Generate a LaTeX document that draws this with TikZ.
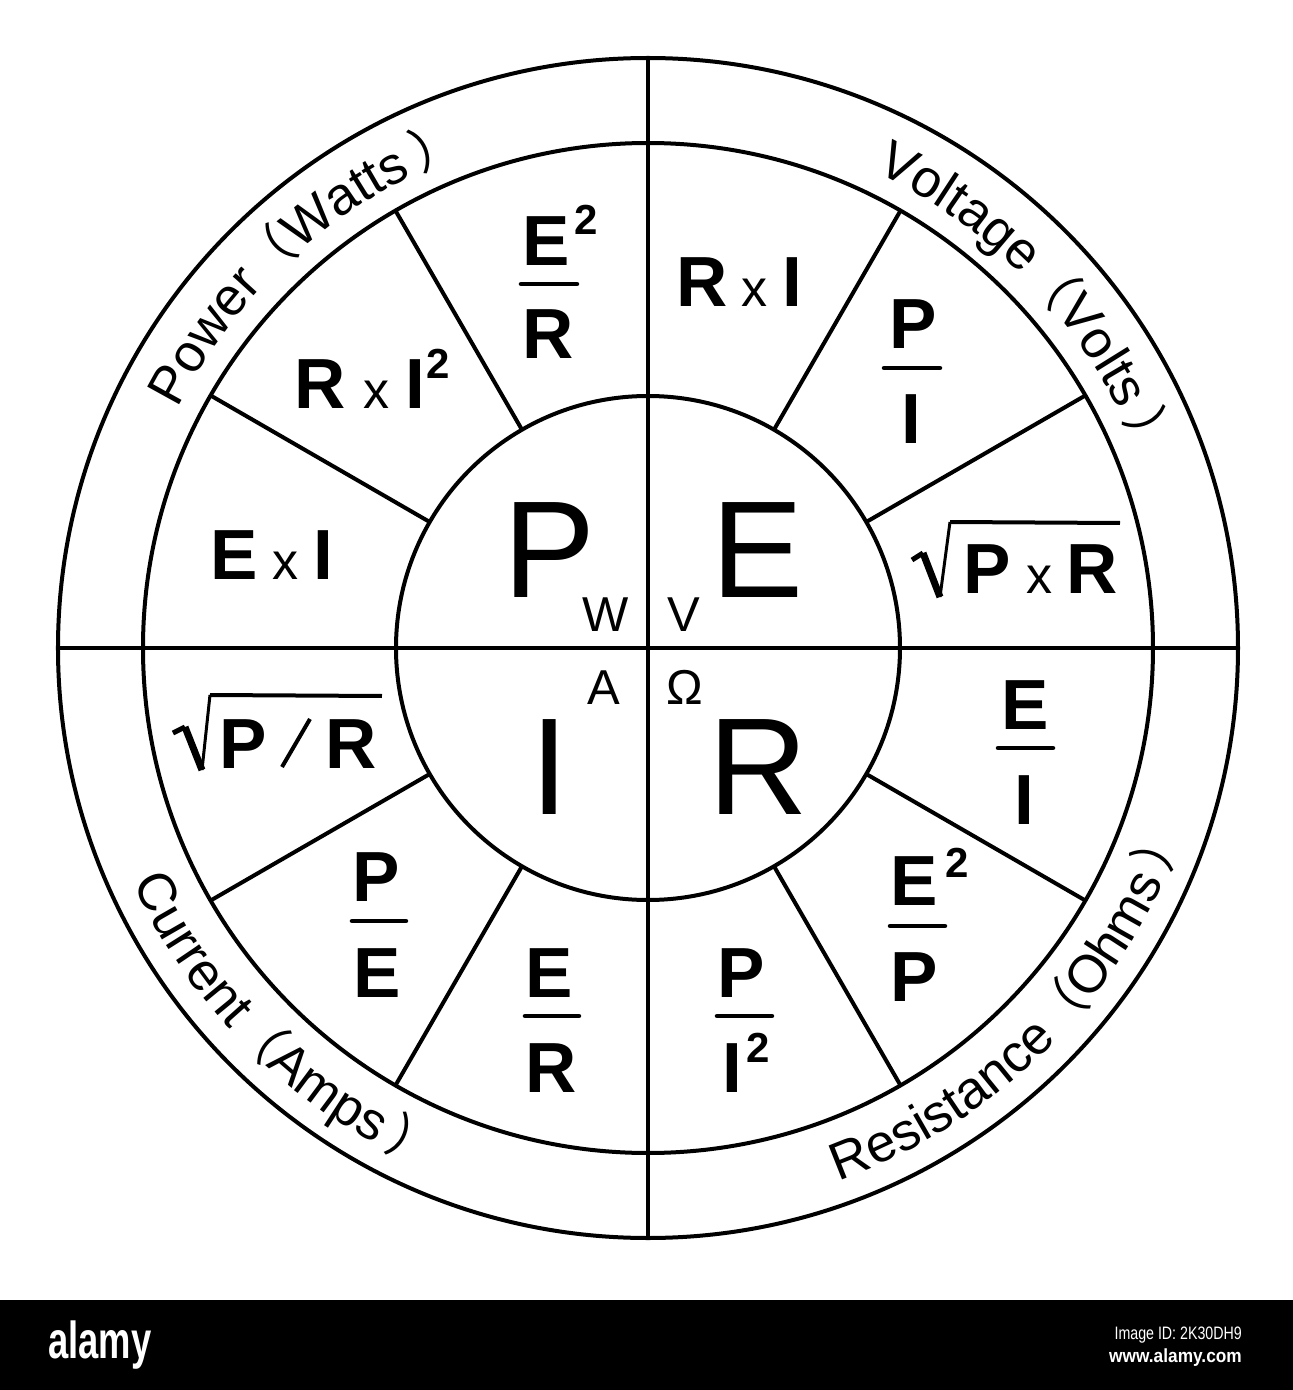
\documentclass[tikz,border=0pt]{standalone}
\usepackage{fontspec}
\setmainfont{Liberation Sans}
\newfontfamily\cjkf{Noto Sans CJK SC}
\usetikzlibrary{decorations.text}
\newcommand{\RT}{\fontsize{53}{53}\selectfont}
\newcommand{\RS}{\fontsize{34}{34}\selectfont}
\newcommand{\CJ}{\cjkf\fontsize{50}{50}\selectfont}
\tikzset{
  ringline/.style={line width=4pt},
  op/.style={font=\fontsize{71}{71}\selectfont\bfseries, inner sep=0pt, anchor=base},
  opx/.style={font=\fontsize{52}{52}\selectfont, inner sep=0pt, anchor=base},
  sq/.style={font=\fontsize{42}{42}\selectfont\bfseries, inner sep=0pt, anchor=base west},
  big/.style={font=\fontsize{138}{138}\selectfont, inner sep=0pt, anchor=base},
  unitlbl/.style={font=\fontsize{49}{49}\selectfont, inner sep=0pt, anchor=base},
  fbar/.style={line width=4.5pt, line cap=round},
  radtick/.style={line width=5pt},
  raddown/.style={line width=7pt},
  radup/.style={line width=3pt},
  radbar/.style={line width=4pt},
}
\begin{document}
\begin{tikzpicture}[x=1pt,y=1pt]
\useasboundingbox (-648,-742) rectangle (645,648);
\fill[white] (-648,-742) rectangle (645,648);
% circles and dividing lines
\coordinate (c) at (0,0);
\draw[ringline] (c) circle[radius=590pt];
\draw[ringline] (c) circle[radius=505pt];
\draw[ringline] (c) circle[radius=252pt];
\draw[ringline] (0,590) -- (0,-590);
\draw[ringline] (-590,0) -- (590,0);
\foreach \a in {30,60,120,150,210,240,300,330}
  \draw[ringline] (\a:252pt) -- (\a:505pt);
% ring texts
\path[decorate, decoration={text along path, text align=left,
  text={|\RT|Power|\CJ|（|\RT|Watts|\RS| |\CJ|）}}]
  (153:528pt) arc[start angle=153, end angle=60, radius=528pt];
\path[decorate, decoration={text along path, text align=left,
  text={|\RT|Voltage|\CJ|（|\RT|Volts|\RS| |\CJ|）}}]
  (64.5:528pt) arc[start angle=64.5, end angle=-30, radius=528pt];
\path[decorate, decoration={text along path, text align=left,
  text={|\RT|Current|\CJ|（|\RT|Amps|\RS| |\CJ|）}}]
  (204.5:566pt) arc[start angle=204.5, end angle=300, radius=566pt];
\path[decorate, decoration={text along path, text align=left,
  text={|\RT|Resistance|\CJ|（|\RT|Ohms|\RS| |\CJ|）}}]
  (289.7:566pt) arc[start angle=289.7, end angle=400, radius=566pt];
% ---- Power quadrant
\node[op] (pE1) at (-102,382) {E};
\node[sq] (pE1s) at (-74,413) {2};
\draw[fbar] (-127,364) -- (-71,364);
\node[op] (pR1) at (-100,289) {R};
\node[op] (pR2) at (-328,239) {R};
\node[opx] (px2) at (-271,239) {x};
\node[op] (pI2) at (-233,239) {I};
\node[sq] (pI2s) at (-222,269) {2};
\node[op] (pE3) at (-414,69) {E};
\node[opx] (px3) at (-362,69) {x};
\node[op] (pI3) at (-325,69) {I};
\node[big] (bigP) at (-98,51) {P};
\node[unitlbl] (uW) at (-42,17) {W};
% ---- Voltage quadrant
\node[op] (eR1) at (54,341) {R};
\node[opx] (ex1) at (107,341) {x};
\node[op] (eI1) at (144,341) {I};
\node[op] (eP2) at (265,299) {P};
\draw[fbar] (236,280) -- (292,280);
\node[op] (eI2) at (263,204) {I};
\draw[radtick] (264,88) -- (275,95);
\draw[raddown] (275,95) -- (292,51);
\draw[radup] (292,51) -- (302,126);
\draw[radbar] (302,126) -- (472,125);
\node[op] (eP3) at (339,55) {P};
\node[opx] (ex3) at (391,55) {x};
\node[op] (eR3) at (444,55) {R};
\node[big] (bigE) at (110,51) {E};
\node[unitlbl] (uV) at (36,17) {V};
% ---- Current quadrant
\draw[radtick] (-475,-85) -- (-463,-79);
\draw[raddown] (-463,-79) -- (-446,-122);
\draw[radup] (-446,-122) -- (-438,-47);
\draw[radbar] (-438,-47) -- (-266,-48);
\node[op] (iP1) at (-405,-120) {P};
\draw[line width=4pt] (-366,-119) -- (-338,-71);
\node[op] (iR1) at (-297,-120) {R};
\node[op] (iP2) at (-272,-253) {P};
\draw[fbar] (-296,-273) -- (-242,-273);
\node[op] (iE2) at (-271,-349) {E};
\node[op] (iE3) at (-99,-349) {E};
\draw[fbar] (-123,-368) -- (-69,-368);
\node[op] (iR3) at (-97,-444) {R};
\node[big] (bigI) at (-98,-166) {I};
\node[unitlbl] (uA) at (-44,-56) {A};
% ---- Resistance quadrant
\node[unitlbl] (uO) at (37,-56) {Ω};
\node[big] (bigR) at (110,-166) {R};
\node[op] (rE1) at (377,-81) {E};
\draw[fbar] (350,-100) -- (405,-100);
\node[op] (rI1) at (376,-176) {I};
\node[op] (rE2) at (266,-257) {E};
\node[sq] (rE2s) at (297,-229) {2};
\draw[fbar] (242,-278) -- (297,-278);
\node[op] (rP2) at (266,-353) {P};
\node[op] (rP3) at (93,-349) {P};
\draw[fbar] (69,-368) -- (124,-368);
\node[op] (rI3) at (84,-444) {I};
\node[sq] (rI3s) at (98,-414) {2};
% ---- bottom bar
\fill[black] (-648,-742) rectangle (645,-652);
\node[anchor=base west, text=white, font=\fontsize{52}{52}\selectfont\bfseries, inner sep=0pt] (logo) at (-600,-710) {\scalebox{0.7}[1]{alamy}};
\node[anchor=base east, text=white, font=\fontsize{18}{18}\selectfont, inner sep=0pt] (imgid) at (594,-691) {\scalebox{0.79}[1]{Image ID: 2K30DH9}};
\node[anchor=base east, text=white, font=\fontsize{19}{19}\selectfont\bfseries, inner sep=0pt] (url) at (594,-714) {\scalebox{0.91}[1]{www.alamy.com}};
\end{tikzpicture}
\end{document}
